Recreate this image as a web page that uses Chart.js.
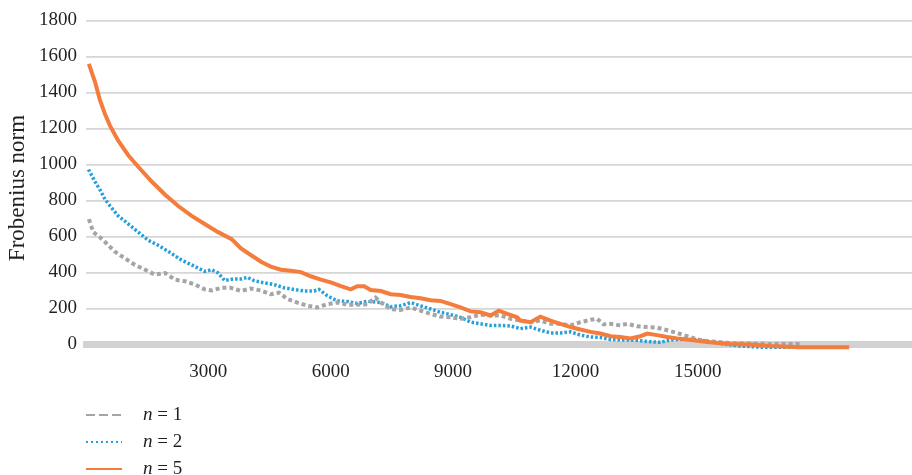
<!DOCTYPE html>
<html>
<head>
<meta charset="utf-8">
<script src="https://cdn.jsdelivr.net/npm/chart.js@4.4.0/dist/chart.umd.min.js"></script>
<style>
  html, body { margin: 0; padding: 0; background: #fff; }
  #wrap { width: 912px; height: 475px; }
</style>
</head>
<body>
<div id="wrap"><canvas id="myChart" width="912" height="475"></canvas></div>
<script>
// values
let xTicks = [3000, 6000, 9000, 12000, 15000];
let seriesN = [1, 2, 5];

let n1Iter = [70, 180, 340, 510, 710, 960, 1200, 1450, 1690, 1940, 2180, 2430, 2670, 2910, 3080, 3320, 3550, 3800, 4040, 4290, 4530, 4730, 4940, 5180, 5430, 5670, 5920, 6160, 6410, 6650, 6900, 7100, 7230, 7470, 7710, 7960, 8200, 8450, 8690, 8940, 9180, 9430, 9670, 9920, 10160, 10410, 10650, 10900, 11140, 11390, 11630, 11880, 12120, 12370, 12530, 12690, 12860, 13100, 13270, 13510, 13760, 14000, 14250, 14490, 14740, 14980, 15230, 15800, 16290, 16780, 17510];
let n1Norm = [696, 624, 596, 560, 515, 478, 442, 415, 388, 397, 360, 351, 333, 306, 300, 315, 315, 297, 311, 300, 279, 288, 252, 233, 215, 206, 224, 233, 221, 221, 224, 260, 233, 197, 192, 206, 188, 170, 155, 151, 143, 151, 166, 161, 161, 143, 133, 124, 133, 115, 115, 106, 124, 137, 143, 112, 115, 106, 115, 101, 97, 94, 79, 64, 46, 28, 19, 8, 5, 3, 2];

let n2Iter = [60, 220, 340, 470, 590, 790, 1040, 1280, 1530, 1770, 2100, 2340, 2670, 2910, 3080, 3240, 3400, 3610, 3800, 3960, 4120, 4370, 4610, 4860, 5100, 5350, 5590, 5710, 5920, 6160, 6410, 6650, 6900, 7230, 7470, 7710, 7960, 8200, 8450, 8690, 8940, 9180, 9430, 9670, 9920, 10160, 10410, 10650, 10900, 11140, 11390, 11630, 11880, 12120, 12370, 12610, 12860, 13100, 13350, 13590, 13840, 14080, 14330, 14570, 14820, 15060, 15550, 16040, 16530, 17460];
let n2Norm = [972, 905, 860, 805, 769, 714, 669, 624, 578, 551, 505, 469, 433, 406, 415, 397, 355, 364, 364, 373, 355, 342, 333, 315, 306, 297, 297, 306, 270, 242, 239, 228, 240, 233, 210, 215, 233, 215, 197, 179, 166, 151, 124, 115, 106, 106, 103, 88, 97, 79, 64, 64, 70, 52, 42, 39, 28, 25, 25, 21, 15, 12, 25, 28, 28, 25, 5, -8, -15, -15];

let n5Iter = [70, 220, 340, 470, 590, 790, 1040, 1280, 1610, 1940, 2260, 2590, 2910, 3240, 3570, 3800, 4040, 4290, 4530, 4780, 5020, 5270, 5510, 5760, 6000, 6250, 6490, 6650, 6820, 6980, 7230, 7470, 7710, 7960, 8200, 8450, 8690, 8940, 9180, 9430, 9670, 9920, 10120, 10330, 10570, 10650, 10900, 11140, 11390, 11630, 11880, 12120, 12370, 12610, 12860, 13100, 13350, 13590, 13760, 14000, 14250, 14490, 14740, 14980, 15230, 15800, 16290, 16780, 17510, 18710];
let n5Norm = [1559, 1459, 1359, 1277, 1214, 1132, 1050, 987, 905, 832, 769, 714, 669, 624, 585, 533, 497, 460, 433, 415, 409, 402, 379, 360, 345, 324, 306, 324, 324, 303, 297, 279, 275, 264, 257, 246, 242, 224, 206, 184, 179, 161, 188, 170, 151, 133, 124, 155, 133, 115, 97, 83, 70, 61, 46, 42, 34, 46, 61, 52, 42, 34, 28, 21, 14, 3, 0, -8, -15, -15];

function toPoints(xs, ys) {
  return xs.map((x, i) => ({ x: x, y: ys[i] }));
}

const serif = '"Liberation Serif", "Times New Roman", serif';
const textColor = '#231f20';

// y title + vertical legend, drawn onto the canvas
const sideText = {
  id: 'sideText',
  afterDraw(chart) {
    const c = chart.ctx;
    c.save();
    c.translate(17.5, 188);
    c.rotate(-Math.PI / 2);
    c.font = '23px ' + serif;
    c.fillStyle = textColor;
    c.textAlign = 'center';
    c.textBaseline = 'middle';
    c.fillText('Frobenius norm', 0, 0);
    c.restore();

    chart.data.datasets.forEach((ds, i) => {
      const y = 415 + i * 27;
      c.save();
      c.strokeStyle = ds.borderColor;
      c.lineWidth = ds.legendWidth;
      c.setLineDash(ds.legendDash);
      c.beginPath();
      c.moveTo(86, y);
      c.lineTo(122, y);
      c.stroke();
      c.restore();

      c.save();
      c.fillStyle = textColor;
      c.textBaseline = 'alphabetic';
      c.font = 'italic 19px ' + serif;
      c.fillText('n', 143, y + 4.5);
      const w = c.measureText('n').width;
      c.font = '19px ' + serif;
      c.fillText(' = ' + seriesN[i], 143 + w, y + 4.5);
      c.restore();
    });
  }
};

let ctx = document.getElementById("myChart").getContext("2d");

let myChart = new Chart(ctx, {
  type: "line",
  data: {
    datasets: [
      {
        label: "n = 1",
        data: toPoints(n1Iter, n1Norm),
        borderColor: "#a5a5a5",
        borderWidth: 4,
        borderDash: [4, 3],
        legendWidth: 1.8,
        legendDash: [9, 4],
        order: 1,
      },
      {
        label: "n = 2",
        data: toPoints(n2Iter, n2Norm),
        borderColor: "#26a0da",
        borderWidth: 3.5,
        borderDash: [2.5, 2],
        legendWidth: 2,
        legendDash: [2, 3],
        order: 2,
      },
      {
        label: "n = 5",
        data: toPoints(n5Iter, n5Norm),
        borderColor: "#f47c3c",
        borderWidth: 4,
        legendWidth: 2,
        legendDash: [],
        order: 0,
      },
    ],
  },
  options: {
    responsive: false,
    devicePixelRatio: 1,
    animation: false,
    clip: false,
    elements: {
      point: { radius: 0 },
      line: { tension: 0, fill: false },
    },
    layout: { padding: { top: 14, right: 0, left: 0, bottom: 0 } },
    plugins: {
      legend: { display: false },
      tooltip: { enabled: false },
    },
    scales: {
      x: {
        type: "linear",
        min: 0,
        max: 20250,
        afterBuildTicks: (scale) => { scale.ticks = xTicks.map(v => ({ value: v })); },
        afterFit: (scale) => { scale.height = 130.5; },
        grid: { display: false, drawTicks: false },
        border: { display: true, color: "#d2d2d2", width: 7 },
        ticks: {
          padding: 16,
          color: textColor,
          font: { family: serif, size: 19 },
          maxRotation: 0,
          autoSkip: false,
          callback: (v) => String(v),
        },
      },
      y: {
        min: 0,
        max: 1800,
        afterFit: (scale) => { scale.width = 86; },
        grid: { color: "#d6d6d6", lineWidth: 1.8, drawTicks: false },
        border: { display: false },
        ticks: {
          stepSize: 200,
          padding: 9,
          color: textColor,
          font: { family: serif, size: 19 },
          callback: (v) => String(v),
        },
      },
    },
  },
  plugins: [sideText],
});
</script>
</body>
</html>
